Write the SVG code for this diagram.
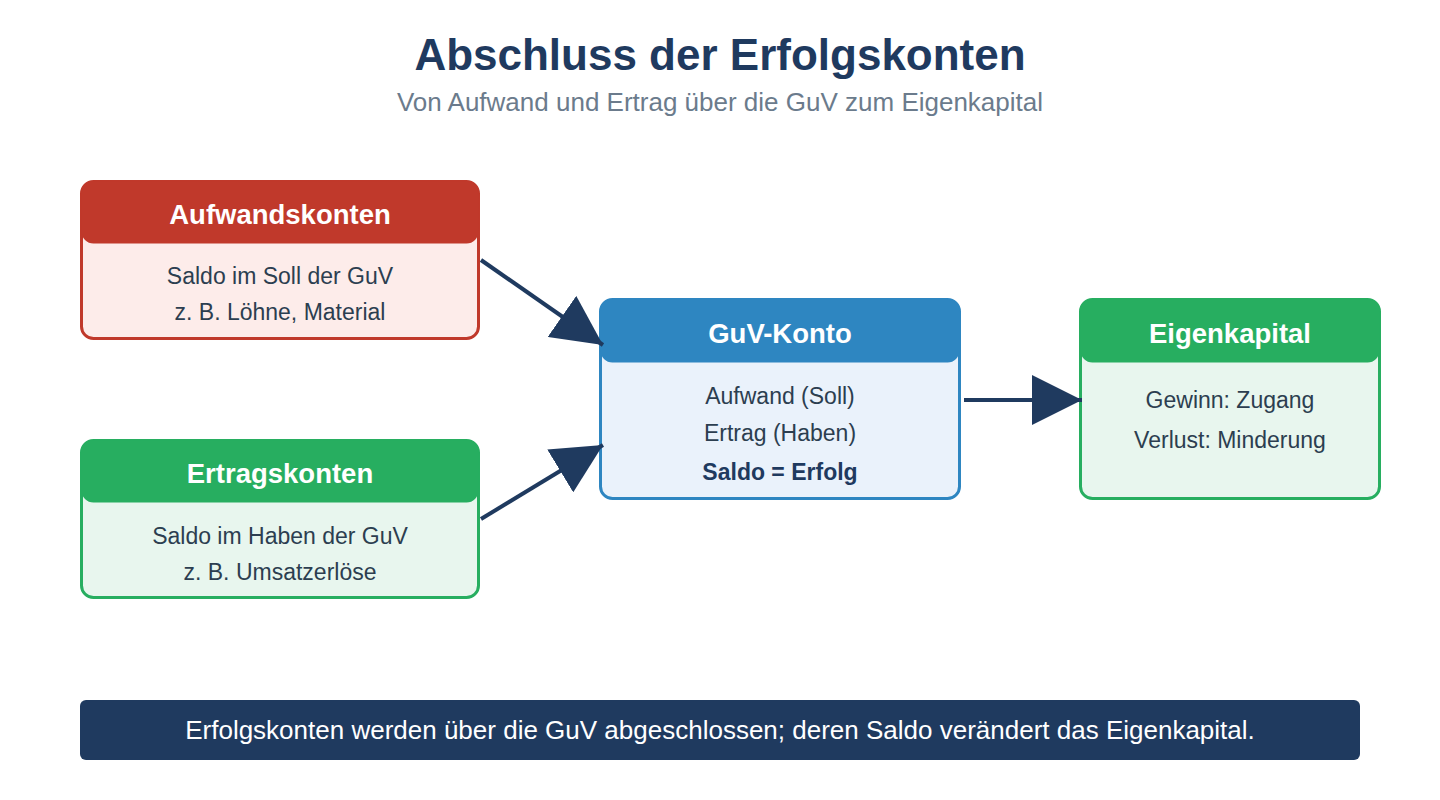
<svg xmlns="http://www.w3.org/2000/svg" width="1440" height="800" viewBox="0 0 1440 800">
<defs>
<marker id="ah" viewBox="0 0 12 12" refX="12" refY="6" markerWidth="12.5" markerHeight="12.5" markerUnits="strokeWidth" orient="auto">
<path d="M0,0 L12,6 L0,12 Z" fill="#1f3a5f"/>
</marker>
</defs>
<style>
text{font-family:"Liberation Sans",Arial,sans-serif;text-anchor:middle}
.title{font-size:44px;font-weight:bold;fill:#1f3a5f}
.sub{font-size:26px;fill:#6b7b8c}
.hd{font-size:27.5px;font-weight:bold;fill:#ffffff}
.bd{font-size:23px;fill:#2c3e50}
.bdb{font-size:23px;font-weight:bold;fill:#1f3a5f}
.conn{stroke:#1f3a5f;stroke-width:4;fill:none;marker-end:url(#ah)}
.foot{font-size:26px;fill:#ffffff}
</style>
<rect width="1440" height="800" fill="#ffffff"/>
<text class="title" x="720" y="70">Abschluss der Erfolgskonten</text>
<text class="sub" x="720" y="111">Von Aufwand und Ertrag über die GuV zum Eigenkapital</text>

<g id="aufwand">
<rect x="81.5" y="181.5" width="397" height="157" rx="12" fill="#fdecea" stroke="#c0392b" stroke-width="3"/>
<rect x="81.5" y="181.5" width="397" height="62" rx="12" fill="#c0392b"/>
<text class="hd" x="280" y="224">Aufwandskonten</text>
<text class="bd" x="280" y="284">Saldo im Soll der GuV</text>
<text class="bd" x="280" y="320">z. B. Löhne, Material</text>
</g>

<g id="ertrag">
<rect x="81.5" y="440.5" width="397" height="157" rx="12" fill="#e8f6ee" stroke="#27ae60" stroke-width="3"/>
<rect x="81.5" y="440.5" width="397" height="62" rx="12" fill="#27ae60"/>
<text class="hd" x="280" y="483">Ertragskonten</text>
<text class="bd" x="280" y="544">Saldo im Haben der GuV</text>
<text class="bd" x="280" y="580">z. B. Umsatzerlöse</text>
</g>

<g id="guv">
<rect x="600.5" y="299.5" width="359" height="199" rx="12" fill="#eaf2fb" stroke="#2e86c1" stroke-width="3"/>
<rect x="600.5" y="299.5" width="359" height="63" rx="12" fill="#2e86c1"/>
<text class="hd" x="780" y="343">GuV-Konto</text>
<text class="bd" x="780" y="404">Aufwand (Soll)</text>
<text class="bd" x="780" y="441">Ertrag (Haben)</text>
<text class="bdb" x="780" y="480">Saldo = Erfolg</text>
</g>

<g id="eigenkapital">
<rect x="1080.5" y="299.5" width="299" height="199" rx="12" fill="#e8f6ee" stroke="#27ae60" stroke-width="3"/>
<rect x="1080.5" y="299.5" width="299" height="63" rx="12" fill="#27ae60"/>
<text class="hd" x="1230" y="343">Eigenkapital</text>
<text class="bd" x="1230" y="408">Gewinn: Zugang</text>
<text class="bd" x="1230" y="448">Verlust: Minderung</text>
</g>

<g id="connectors">
<line class="conn" x1="481" y1="260" x2="603" y2="345"/>
<line class="conn" x1="481" y1="519" x2="603" y2="445"/>
<line class="conn" x1="964" y1="400" x2="1082" y2="400"/>
</g>

<g id="footer">
<rect x="80" y="700" width="1280" height="60" rx="6" fill="#1f3a5f"/>
<text class="foot" x="720" y="739">Erfolgskonten werden über die GuV abgeschlossen; deren Saldo verändert das Eigenkapital.</text>
</g>
</svg>
